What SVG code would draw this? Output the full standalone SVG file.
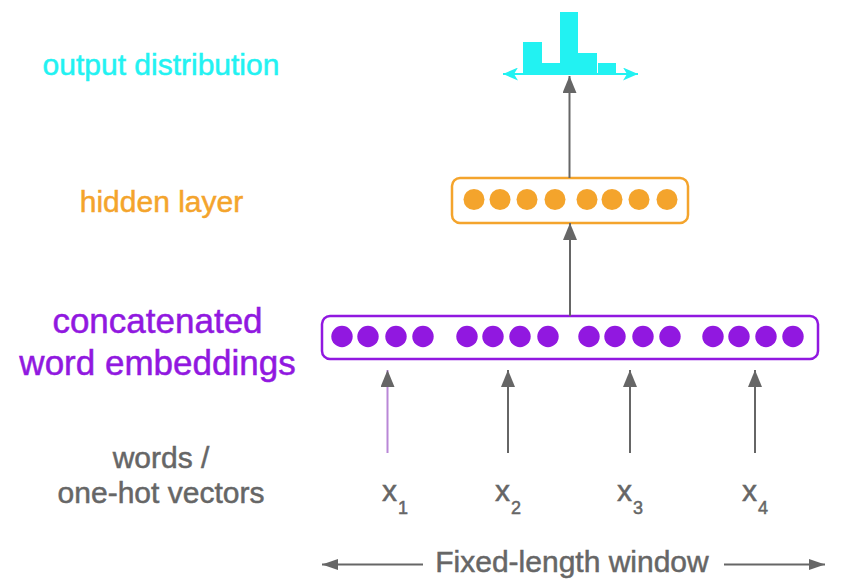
<svg xmlns="http://www.w3.org/2000/svg" width="843" height="582" viewBox="0 0 843 582">
<defs>
<style>
text{font-family:"Liberation Sans",Arial,sans-serif;stroke-width:0.5px}
.lbl{font-size:30px;text-anchor:middle}
.gray{fill:#666666;stroke:#666666}
.sub{font-size:18px}
.arr{stroke:#666666;stroke-width:2;fill:none}
.hc{fill:#f4a42c}
.ec{fill:#9118e0}
.bar{fill:#22f2f2}
</style>
<marker id="ah" markerUnits="userSpaceOnUse" markerWidth="17" markerHeight="14" viewBox="0 0 17 14" refX="17" refY="7" orient="auto">
<path d="M0,0 L17,7 L0,14 Z" fill="#666666"/>
</marker>
<marker id="ahc" markerUnits="userSpaceOnUse" markerWidth="15" markerHeight="13" viewBox="0 0 15 13" refX="15" refY="6.5" orient="auto">
<path d="M0,0 L15,6.5 L0,13 L4,6.5 Z" fill="#22f2f2"/>
</marker>
<marker id="ahs" markerUnits="userSpaceOnUse" markerWidth="16" markerHeight="11" viewBox="0 0 16 11" refX="16" refY="5.5" orient="auto">
<path d="M0,0 L16,5.5 L0,11 Z" fill="#666666"/>
</marker>
</defs>
<rect width="843" height="582" fill="#ffffff"/>

<g id="labels">
<text class="lbl" x="161" y="75" fill="#22f2f2" stroke="#22f2f2">output distribution</text>
<text class="lbl" x="161.5" y="212" fill="#f4a42c" stroke="#f4a42c">hidden layer</text>
<text class="lbl" x="157.5" y="333" fill="#9118e0" stroke="#9118e0" style="font-size:35px">concatenated</text>
<text class="lbl" x="157.5" y="375" fill="#9118e0" stroke="#9118e0" style="font-size:35px">word embeddings</text>
<text class="lbl gray" x="161" y="468">words /</text>
<text class="lbl gray" x="161" y="503">one-hot vectors</text>
</g>

<g id="output">
<rect class="bar" x="523" y="42" width="19" height="32"/>
<rect class="bar" x="542" y="63" width="18" height="11"/>
<rect class="bar" x="560" y="12" width="18" height="62"/>
<rect class="bar" x="578" y="53" width="19" height="21"/>
<rect class="bar" x="598" y="63" width="18" height="11"/>
<line x1="517" y1="74" x2="503" y2="74" stroke="#22f2f2" stroke-width="2" marker-end="url(#ahc)"/>
<line x1="510" y1="74" x2="638" y2="74" stroke="#22f2f2" stroke-width="2" marker-end="url(#ahc)"/>
</g>

<g id="hidden">
<rect x="452" y="178" width="236" height="45" rx="8" fill="#fff" stroke="#f4a42c" stroke-width="2.5"/>
<circle class="hc" cx="474" cy="199.5" r="10.5"/>
<circle class="hc" cx="500" cy="199.5" r="10.5"/>
<circle class="hc" cx="527" cy="199.5" r="10.5"/>
<circle class="hc" cx="555" cy="199.5" r="10.5"/>
<circle class="hc" cx="587" cy="199.5" r="10.5"/>
<circle class="hc" cx="612" cy="199.5" r="10.5"/>
<circle class="hc" cx="639" cy="199.5" r="10.5"/>
<circle class="hc" cx="667" cy="199.5" r="10.5"/>
</g>

<g id="embeddings">
<rect x="322" y="316" width="496" height="43" rx="8" fill="#fff" stroke="#9118e0" stroke-width="2.5"/>
<circle class="ec" cx="342" cy="336.5" r="10.7"/>
<circle class="ec" cx="368" cy="336.5" r="10.7"/>
<circle class="ec" cx="396" cy="336.5" r="10.7"/>
<circle class="ec" cx="423" cy="336.5" r="10.7"/>
<circle class="ec" cx="467" cy="336.5" r="10.7"/>
<circle class="ec" cx="493" cy="336.5" r="10.7"/>
<circle class="ec" cx="520" cy="336.5" r="10.7"/>
<circle class="ec" cx="548" cy="336.5" r="10.7"/>
<circle class="ec" cx="589" cy="336.5" r="10.7"/>
<circle class="ec" cx="615" cy="336.5" r="10.7"/>
<circle class="ec" cx="643" cy="336.5" r="10.7"/>
<circle class="ec" cx="670" cy="336.5" r="10.7"/>
<circle class="ec" cx="713" cy="336.5" r="10.7"/>
<circle class="ec" cx="739" cy="336.5" r="10.7"/>
<circle class="ec" cx="766" cy="336.5" r="10.7"/>
<circle class="ec" cx="793" cy="336.5" r="10.7"/>
</g>

<g id="inputs" class="gray">
<text x="382" y="501" style="font-size:30px">x</text><text class="sub" x="398" y="514">1</text>
<text x="495" y="501" style="font-size:30px">x</text><text class="sub" x="511" y="514">2</text>
<text x="617" y="501" style="font-size:30px">x</text><text class="sub" x="633" y="514">3</text>
<text x="742" y="501" style="font-size:30px">x</text><text class="sub" x="758" y="514">4</text>
</g>

<g id="connectors">
<line class="arr" x1="569.5" y1="178" x2="569.5" y2="76" marker-end="url(#ah)"/>
<line class="arr" x1="570" y1="316" x2="570" y2="223" marker-end="url(#ah)"/>
<line class="arr" x1="387.5" y1="453" x2="387.5" y2="370" marker-end="url(#ah)" style="stroke:#b987d6"/>
<line class="arr" x1="508" y1="453" x2="508" y2="370" marker-end="url(#ah)"/>
<line class="arr" x1="630" y1="453" x2="630" y2="370" marker-end="url(#ah)"/>
<line class="arr" x1="755" y1="453" x2="755" y2="370" marker-end="url(#ah)"/>
</g>

<g id="window">
<line class="arr" x1="423" y1="564.5" x2="322" y2="564.5" marker-end="url(#ahs)"/>
<line class="arr" x1="724" y1="564.5" x2="825" y2="564.5" marker-end="url(#ahs)"/>
<text class="lbl gray" x="572" y="571.5">Fixed-length window</text>
</g>
</svg>
